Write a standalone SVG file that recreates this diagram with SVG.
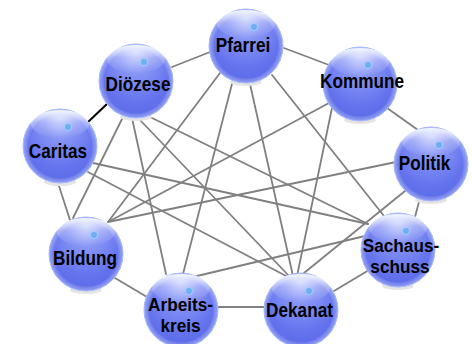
<svg xmlns="http://www.w3.org/2000/svg" xmlns:xlink="http://www.w3.org/1999/xlink" width="472" height="344" viewBox="0 0 472 344">
<style>
.e{stroke:#808080;stroke-width:1.8;fill:none;stroke-linecap:round}
.k{stroke:#000;stroke-width:2;fill:none}
.lbl{font-family:"Liberation Sans",Arial,sans-serif;font-weight:bold;font-size:20px;fill:#000;text-anchor:middle}
.sm{font-size:18.5px}
</style>
<defs>
<radialGradient id="body" cx="50%" cy="40%" r="60%" fx="50%" fy="12%">
<stop offset="0" stop-color="#b8c2fc"/>
<stop offset="0.35" stop-color="#8593f5"/>
<stop offset="0.75" stop-color="#6675ee"/>
<stop offset="1" stop-color="#5a69e6"/>
</radialGradient>
<radialGradient id="rim" cx="50%" cy="50%" r="50%">
<stop offset="0.86" stop-color="#ffffff" stop-opacity="0"/>
<stop offset="1" stop-color="#b0c4ff" stop-opacity="0.55"/>
</radialGradient>
<linearGradient id="gloss" x1="0" y1="0" x2="0" y2="1">
<stop offset="0" stop-color="#f4fbff" stop-opacity="0.95"/>
<stop offset="0.45" stop-color="#ffffff" stop-opacity="0.3"/>
<stop offset="1" stop-color="#ffffff" stop-opacity="0"/>
</linearGradient>
<g id="ball">
<ellipse cx="0" cy="36" rx="16" ry="4" fill="#e4e4e4"/>
<circle r="37" fill="url(#body)" stroke="#a4b4ff" stroke-width="1"/>
<circle r="37" fill="url(#rim)"/>
<ellipse cx="0" cy="-22" rx="29" ry="14" fill="url(#gloss)"/>
<circle cx="8" cy="-19" r="3.6" fill="#6eaef2" stroke="#a8d4ff" stroke-width="0.8"/>
</g>
</defs>
<rect width="472" height="344" fill="#fff"/>
<g id="connectors">
<line class="e" x1="172" y1="67" x2="210" y2="52"/>
<line class="e" x1="284" y1="48" x2="329" y2="65"/>
<line class="e" x1="387" y1="108" x2="418" y2="130"/>
<line class="e" x1="420" y1="198" x2="415" y2="217"/>
<line class="e" x1="369" y1="270" x2="334" y2="291"/>
<line class="e" x1="218" y1="307" x2="264" y2="307"/>
<line class="e" x1="115" y1="278" x2="147" y2="297"/>
<line class="e" x1="58" y1="183" x2="70" y2="220"/>
<line class="k" x1="88" y1="122" x2="107" y2="104"/>
<line class="e" x1="123" y1="117" x2="73" y2="218"/>
<line class="e" x1="132" y1="118" x2="166" y2="274"/>
<line class="e" x1="140" y1="120" x2="290" y2="277"/>
<line class="e" x1="148" y1="116" x2="368" y2="224"/>
<line class="e" x1="220" y1="73" x2="108" y2="222"/>
<line class="e" x1="233" y1="80" x2="183" y2="274"/>
<line class="e" x1="250" y1="84" x2="293" y2="276"/>
<line class="e" x1="272" y1="75" x2="384" y2="216"/>
<line class="e" x1="329" y1="103" x2="108" y2="222"/>
<line class="e" x1="332" y1="108" x2="297" y2="276"/>
<line class="e" x1="396" y1="162" x2="108" y2="222"/>
<line class="e" x1="405" y1="191" x2="304" y2="273"/>
<line class="e" x1="93" y1="163" x2="368" y2="224"/>
<line class="e" x1="88" y1="172" x2="288" y2="277"/>
<line class="e" x1="197" y1="276" x2="365" y2="236"/>
</g>
<g id="dioezese"><use xlink:href="#ball" transform="translate(136 81)"/><text class="lbl" transform="translate(138 91) scale(0.86 1)">Diözese</text></g>
<g id="pfarrei"><use xlink:href="#ball" transform="translate(246 46)"/><text class="lbl" transform="translate(243 52) scale(0.86 1)">Pfarrei</text></g>
<g id="kommune"><use xlink:href="#ball" transform="translate(360 84)"/><text class="lbl" transform="translate(362 88) scale(0.86 1)">Kommune</text></g>
<g id="politik"><use xlink:href="#ball" transform="translate(431 164)"/><text class="lbl" transform="translate(424.5 170) scale(0.86 1)">Politik</text></g>
<g id="sachausschuss"><use xlink:href="#ball" transform="translate(398 250)"/><text class="lbl sm" transform="translate(401 252) scale(0.93 1)">Sachaus-</text><text class="lbl sm" transform="translate(400 272.5) scale(0.93 1)">schuss</text></g>
<g id="dekanat"><use xlink:href="#ball" transform="translate(301 310)"/><text class="lbl" transform="translate(299.5 317) scale(0.86 1)">Dekanat</text></g>
<g id="arbeitskreis"><use xlink:href="#ball" transform="translate(181 310)"/><text class="lbl sm" transform="translate(180.5 311) scale(0.93 1)">Arbeits-</text><text class="lbl sm" transform="translate(180.5 331.5) scale(0.93 1)">kreis</text></g>
<g id="bildung"><use xlink:href="#ball" transform="translate(86 254)"/><text class="lbl" transform="translate(85 265) scale(0.86 1)">Bildung</text></g>
<g id="caritas"><use xlink:href="#ball" transform="translate(60 146)"/><text class="lbl" transform="translate(58 158) scale(0.86 1)">Caritas</text></g>
</svg>
